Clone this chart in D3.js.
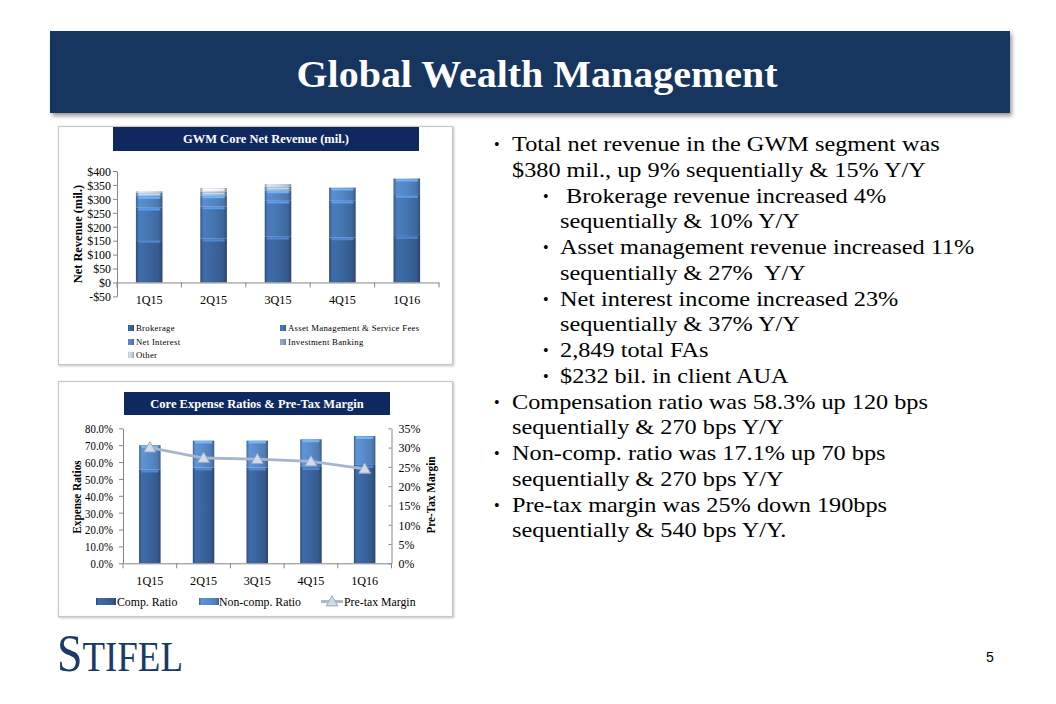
<!DOCTYPE html>
<html><head><meta charset="utf-8">
<script src="https://cdn.jsdelivr.net/npm/d3@7"></script>
<style>body{margin:0;background:#fff;} svg{display:block;}</style>
</head><body><svg id="c" width="1056" height="704"></svg>
<script>
// ---------- data ----------
const quarters = ["1Q15","2Q15","3Q15","4Q15","1Q16"];
const brokerage = [152,157,164,161,167];
const assetMgmt = [116,115,129,132,147];
const netInterest = [42,40,37,47,58];
const investmentBanking = [12,13,13,0,0];
const otherRev = [5,14,10,1,3];
const revSeriesNames = ["Brokerage","Asset Management & Service Fees","Net Interest","Investment Banking","Other"];
const revTicks = [-50,0,50,100,150,200,250,300,350,400];

const compRatio = [55.6,56.7,56.7,57.1,58.3];
const nonCompRatio = [14.4,16.0,16.0,16.4,17.1];
const pretaxMargin = [30.0,27.3,27.0,26.4,24.5];
const ratioTicks = [0,10,20,30,40,50,60,70,80];
const marginTicks = [0,5,10,15,20,25,30,35];

const bullets = [
  [1,true,"Total net revenue in the GWM segment was"],
  [1,false,"$380 mil., up 9% sequentially & 15% Y/Y"],
  [2,true,"\u00a0Brokerage revenue increased 4%"],
  [2,false,"sequentially & 10% Y/Y"],
  [2,true,"Asset management revenue increased 11%"],
  [2,false,"sequentially & 27%\u00a0 Y/Y"],
  [2,true,"Net interest income increased 23%"],
  [2,false,"sequentially & 37% Y/Y"],
  [2,true,"2,849 total FAs"],
  [2,true,"$232 bil. in client AUA"],
  [1,true,"Compensation ratio was 58.3% up 120 bps"],
  [1,false,"sequentially & 270 bps Y/Y"],
  [1,true,"Non-comp. ratio was 17.1% up 70 bps"],
  [1,false,"sequentially & 270 bps Y/Y"],
  [1,true,"Pre-tax margin was 25% down 190bps"],
  [1,false,"sequentially & 540 bps Y/Y."]
];

// ---------- setup ----------
const svg = d3.select("#c");
const defs = svg.append("defs");
const SERIF = "'Liberation Serif','Times New Roman',serif";

function makeGrad(id, base){
  const c = d3.color(base);
  const g = defs.append("linearGradient").attr("id",id).attr("x1","0").attr("x2","1").attr("y1","0").attr("y2","0");
  [[0,c.darker(0.9)],[0.12,c.brighter(0.15)],[0.45,c],[0.85,c.darker(0.35)],[1,c.darker(1.1)]].forEach(([o,col])=>{
    g.append("stop").attr("offset",o).attr("stop-color",col.formatHex());
  });
  return `url(#${id})`;
}
const f = defs.append("filter").attr("id","shadow").attr("x","-5%").attr("y","-10%").attr("width","110%").attr("height","130%");
f.append("feDropShadow").attr("dx",2).attr("dy",3).attr("stdDeviation",2).attr("flood-color","#555").attr("flood-opacity",0.6);
const f2 = defs.append("filter").attr("id","pshadow").attr("x","-5%").attr("y","-5%").attr("width","110%").attr("height","110%");
f2.append("feDropShadow").attr("dx",1).attr("dy",1).attr("stdDeviation",1).attr("flood-color","#999").attr("flood-opacity",0.6);

// ---------- banner ----------
svg.append("rect").attr("x",50).attr("y",31).attr("width",960).attr("height",82).attr("fill","#14365f").attr("filter","url(#shadow)");
svg.append("text").attr("x",537).attr("y",87).attr("text-anchor","middle")
  .attr("font-family","'Liberation Serif',serif").attr("font-weight","bold").attr("font-size",37)
  .attr("fill","#fff").attr("textLength",481).attr("lengthAdjust","spacingAndGlyphs").text("Global Wealth Management");

// ---------- helpers ----------
function panel(x,y,w,h,tx,tw,ty,th,title){
  svg.append("rect").attr("x",x).attr("y",y).attr("width",w).attr("height",h)
    .attr("fill","#fff").attr("stroke","#c8c8c8").attr("stroke-width",1.2).attr("filter","url(#pshadow)");
  svg.append("rect").attr("x",tx).attr("y",ty).attr("width",tw).attr("height",th).attr("fill","#0f2860");
  svg.append("text").attr("x",tx+tw/2).attr("y",ty+th/2+4).attr("text-anchor","middle")
    .attr("font-family",SERIF).attr("font-weight","bold").attr("font-size",12.5).attr("fill","#fff").text(title);
}
const AX = "#868686";
function styleAxis(g, squeeze){
  g.selectAll("path,line").attr("stroke",AX);
  g.selectAll("text").attr("font-family",SERIF).attr("font-size",13.5).attr("fill","#000")
    .each(function(){ const w=this.getComputedTextLength();
      d3.select(this).attr("textLength",(w*squeeze).toFixed(1)).attr("lengthAdjust","spacingAndGlyphs"); });
}
function condensedLabel(x,y,rot,txt,size,squeeze){
  const t = svg.append("text").attr("transform",`translate(${x},${y}) rotate(${rot})`).attr("text-anchor","middle")
    .attr("font-family",SERIF).attr("font-weight","bold").attr("font-size",size).text(txt);
  const w = t.node().getComputedTextLength();
  t.attr("textLength",(w*squeeze).toFixed(1)).attr("lengthAdjust","spacingAndGlyphs");
}

// ---------- chart 1: revenue ----------
panel(58.5,126.5,394,238,113,306,127,24,"GWM  Core Net Revenue (mil.)");
const x1 = d3.scaleBand().domain(quarters).range([117,439]).paddingInner(0.587).paddingOuter(0.2935);
const y1 = d3.scaleLinear().domain([-50,400]).range([296.4,171]);
const revColors = ["#3c66a0","#4676b3","#5587c6","#8fa6c4","#cfd6e0"];
const revGrads = revColors.map((c,i)=>makeGrad("rg"+i,c));
const revSeries = [brokerage,assetMgmt,netInterest,investmentBanking,otherRev];
const stackData = quarters.map((q,i)=>{const o={q}; revSeriesNames.forEach((n,j)=>o[n]=revSeries[j][i]); return o;});
const stacked = d3.stack().keys(revSeriesNames)(stackData);
const g1 = svg.append("g");
stacked.forEach((s,j)=>{
  s.forEach(d=>{
    const h = y1(d[0])-y1(d[1]);
    if(h<=0.2) return;
    const xx = x1(d.data.q), bw = x1.bandwidth();
    g1.append("rect").attr("x",xx).attr("y",y1(d[1])).attr("width",bw).attr("height",h).attr("fill",revGrads[j]);
    if(h>3){
      g1.append("rect").attr("x",xx+2).attr("y",y1(d[1])+0.5).attr("width",bw-4).attr("height",2.2).attr("rx",1.1)
        .attr("fill",d3.color(revColors[j]).brighter(0.9).formatHex()).attr("opacity",0.85);
    }
  });
});
const ya1 = svg.append("g").attr("transform","translate(117,0)")
  .call(d3.axisLeft(y1).tickValues(revTicks).tickSize(4).tickSizeOuter(0).tickPadding(2).tickFormat(d=>d<0?"-$"+(-d):"$"+d));
styleAxis(ya1,0.88);
const xa1 = svg.append("g").attr("transform",`translate(0,${y1(0)})`)
  .call(d3.axisBottom(x1).tickSize(0).tickPadding(12).tickSizeOuter(0));
styleAxis(xa1,0.9);
d3.range(6).forEach(i=>{const bx=x1.range()[0]+i*x1.step();
  svg.append("line").attr("x1",bx).attr("x2",bx).attr("y1",y1(0)).attr("y2",y1(0)+5).attr("stroke",AX);});
condensedLabel(82,234,-90,"Net Revenue (mil.)",13,0.95);
// legend 1
const legPos = [[128,328],[280,328],[128,342],[280,342],[128,355]];
revSeriesNames.forEach((n,j)=>{
  const [lx,ly]=legPos[j];
  svg.append("rect").attr("x",lx).attr("y",ly-3).attr("width",6).attr("height",6).attr("fill",revGrads[j]);
  svg.append("text").attr("x",lx+8).attr("y",ly+3).attr("font-family",SERIF).attr("font-size",8.7)
    .attr("letter-spacing",0.3).text(n);
});

// ---------- chart 2: ratios ----------
panel(58.5,381.5,394,235,124,266,392,23,"Core Expense Ratios & Pre-Tax Margin");
const x2 = d3.scaleBand().domain(quarters).range([123,391.5]).paddingInner(0.6).paddingOuter(0.3);
const y2 = d3.scaleLinear().domain([0,80]).range([563.3,428.3]);
const y2r = d3.scaleLinear().domain([0,35]).range([563.3,428.3]);
const compColor = "#3b65a0", nonColor = "#5a8ccb";
const compGrad = makeGrad("cg",compColor), nonGrad = makeGrad("ng",nonColor);
const g2 = svg.append("g");
quarters.forEach((q,i)=>{
  const xx=x2(q), bw=x2.bandwidth();
  g2.append("rect").attr("x",xx).attr("y",y2(compRatio[i])).attr("width",bw).attr("height",y2(0)-y2(compRatio[i])).attr("fill",compGrad);
  g2.append("rect").attr("x",xx+2).attr("y",y2(compRatio[i])+0.5).attr("width",bw-4).attr("height",2.5).attr("rx",1.2)
    .attr("fill",d3.color(compColor).brighter(1).formatHex()).attr("opacity",0.8);
  const top = compRatio[i]+nonCompRatio[i];
  g2.append("rect").attr("x",xx).attr("y",y2(top)).attr("width",bw).attr("height",y2(compRatio[i])-y2(top)).attr("fill",nonGrad);
  g2.append("rect").attr("x",xx+2).attr("y",y2(top)+0.5).attr("width",bw-4).attr("height",2.5).attr("rx",1.2)
    .attr("fill",d3.color(nonColor).brighter(0.9).formatHex()).attr("opacity",0.8);
});
const ya2 = svg.append("g").attr("transform","translate(123,0)")
  .call(d3.axisLeft(y2).tickValues(ratioTicks).tickSize(4).tickSizeOuter(0).tickPadding(6).tickFormat(d=>d.toFixed(1)+"%"));
styleAxis(ya2,0.8);
const ya2r = svg.append("g").attr("transform","translate(391.5,0)")
  .call(d3.axisRight(y2r).tickValues(marginTicks).tickSize(-3).tickSizeOuter(0).tickPadding(7).tickFormat(d=>d+"%"));
styleAxis(ya2r,0.88);
const xa2 = svg.append("g").attr("transform",`translate(0,${y2(0)})`)
  .call(d3.axisBottom(x2).tickSize(0).tickPadding(12).tickSizeOuter(0));
styleAxis(xa2,0.9);
d3.range(6).forEach(i=>{const bx=x2.range()[0]+i*x2.step();
  svg.append("line").attr("x1",bx).attr("x2",bx).attr("y1",y2(0)).attr("y2",y2(0)+5).attr("stroke",AX);});
const lineColor = "#a6b5d0";
const line = d3.line().x((d,i)=>x2(quarters[i])+x2.bandwidth()/2).y(d=>y2r(d));
svg.append("path").datum(pretaxMargin).attr("d",line).attr("fill","none").attr("stroke",lineColor).attr("stroke-width",2.8);
const tri = d3.symbol().type(d3.symbolTriangle).size(60);
pretaxMargin.forEach((v,i)=>{
  svg.append("path").attr("d",tri()).attr("transform",`translate(${x2(quarters[i])+x2.bandwidth()/2},${y2r(v)+1})`)
    .attr("fill","#d4dbe8").attr("stroke","#9aa9c4").attr("stroke-width",1);
});
condensedLabel(81,497,-90,"Expense Ratios",12.5,0.9);
condensedLabel(435,495,-90,"Pre-Tax Margin",12.5,0.9);
// legend 2
const LF = 11.8;
svg.append("rect").attr("x",96).attr("y",598).attr("width",20).attr("height",7).attr("fill",compGrad);
svg.append("text").attr("x",117).attr("y",606).attr("font-family",SERIF).attr("font-size",LF).text("Comp. Ratio");
svg.append("rect").attr("x",199).attr("y",598).attr("width",20).attr("height",7).attr("fill",nonGrad);
svg.append("text").attr("x",219).attr("y",606).attr("font-family",SERIF).attr("font-size",LF).text("Non-comp. Ratio");
svg.append("line").attr("x1",321).attr("x2",343).attr("y1",601.5).attr("y2",601.5).attr("stroke",lineColor).attr("stroke-width",2.8);
svg.append("path").attr("d",tri()).attr("transform","translate(332,602.5)").attr("fill","#d4dbe8").attr("stroke","#9aa9c4");
svg.append("text").attr("x",344).attr("y",606).attr("font-family",SERIF).attr("font-size",LF).text("Pre-tax Margin");

// ---------- bullets ----------
const bg = svg.append("g").attr("font-family",SERIF).attr("font-size",21).attr("fill","#000");
const lines = bg.selectAll("text.l").data(bullets).join("text").attr("class","l").attr("x",0).attr("y",0).text(d=>d[2]);
const w0 = lines.nodes()[0].getComputedTextLength();
const sx = 428 / w0;
lines.attr("transform",(d,i)=>`translate(${d[0]===1?512:560},${151+i*25.75}) scale(${sx.toFixed(4)},1)`);
bg.selectAll("text.b").data(bullets.map((d,i)=>[d,i]).filter(d=>d[0][1])).join("text").attr("class","b")
  .attr("x",d=>d[0][0]===1?494:543).attr("y",d=>151+d[1]*25.75-1).attr("font-size",16).text("\u2022");

// ---------- logo & page number ----------
const logo = svg.append("text").attr("x",57).attr("y",671).attr("font-family",SERIF).attr("fill","#1b3a66")
  .attr("textLength",126).attr("lengthAdjust","spacingAndGlyphs");
logo.append("tspan").attr("font-size",52).text("S");
logo.append("tspan").attr("font-size",42).text("TIFEL");
svg.append("text").attr("x",990).attr("y",662).attr("text-anchor","middle").attr("font-family","'Liberation Sans',Arial,sans-serif")
  .attr("font-size",14).text("5");
</script></body></html>
